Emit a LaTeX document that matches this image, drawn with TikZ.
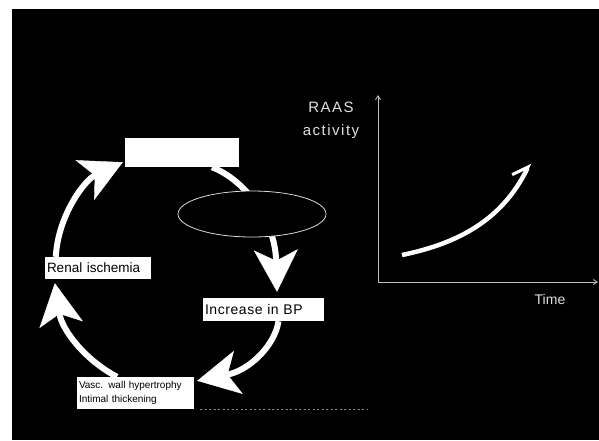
\documentclass[tikz,border=0pt]{standalone}
\usepackage{fontspec}
\setmainfont{Liberation Sans}
\newfontfamily\lsfont[LetterSpace=10]{Liberation Sans}
\newfontfamily\lsfontb[LetterSpace=4]{Liberation Sans}
\usetikzlibrary{arrows.meta,shapes.geometric,calc}
\begin{document}
\begin{tikzpicture}[x=1pt,y=-1pt,
  cyc/.style={draw=white, line width=6pt,
    -{Stealth[length=42pt,width=44pt,inset=11pt,line width=0.4pt]}},
  box/.style={fill=white, text=black, inner ysep=0pt, inner xsep=2pt, align=left},
  axis/.style={draw=white!75!black, line width=0.8pt, -{Straight Barb[length=4pt,width=5pt,line width=0.8pt]}},
  lab/.style={text=white!88!black, inner sep=0pt}
]
\useasboundingbox (0,0) rectangle (599,440);
\fill[black] (12,9) rectangle (599,440);

% boxes
\node[fill=white, minimum width=114pt, minimum height=29pt, inner sep=0pt] (top) at (182,152.5) {};
\node[box, text width=102pt, minimum height=22pt, font=\fontsize{13.5}{15}\selectfont] (renal) at (98,268) {Renal ischemia};
\node[box, text width=117pt, minimum height=23pt, font={\lsfontb\fontsize{14}{16}\selectfont}] (bp) at (263.5,309.5) {Increase in BP};
\node[box, text width=113pt, minimum height=32pt, font=\fontsize{10}{14}\selectfont] (vasc) at (135.5,393) {Vasc. wall hypertrophy\\Intimal thickening};

% cycle arrows
\draw[cyc] ($(top.south)+(30,0)$) .. controls (245,180) and (275,220) .. ($(bp.north)+(13.5,-6)$);
\draw[cyc] ($(bp.south)+(15,0)$) .. controls (275,345) and (250,370) .. ($(vasc.north east)+(3,4)$);
\draw[cyc] ($(vasc.north)+(-18.5,0)$) .. controls (85,360) and (62,330) .. ($(renal.south west)+(10,4)$);
\draw[cyc] ($(renal.north west)+(11,0)$) .. controls (58,215) and (85,180) .. ($(top.south west)+(-2,-5)$);

% ellipse over arrow
\node[ellipse, draw=white!85!black, fill=black, line width=0.8pt, minimum width=148pt, minimum height=46pt, inner sep=0pt] (ell) at (252,214) {};

% faint dotted line
\coordinate (d0) at (200,409);
\coordinate (d1) at (368,409);
\draw[white!55!black, line width=0.7pt, dash pattern=on 2pt off 2.5pt] (d0) -- (d1);

% graph
\coordinate (o) at (378,282);
\coordinate (ytop) at (378,95);
\coordinate (xend) at (598,282);
\draw[axis] (o) -- (ytop);
\draw[axis] (o) -- (xend);
\coordinate (c0) at (402,255);
\coordinate (c1) at (530,163);
\draw[white, line width=4.5pt, -{Straight Barb[harpoon,length=14pt,width=22pt,line width=3pt]}] (c0) .. controls (450,245) and (500,225) .. (c1);

\node[lab, font={\lsfont\fontsize{15}{23}\selectfont}, align=center] (raas) at (331,120) {RAAS\\activity};
\node[lab, font=\fontsize{14}{16}\selectfont] (time) at (550,299) {Time};
\end{tikzpicture}
\end{document}
